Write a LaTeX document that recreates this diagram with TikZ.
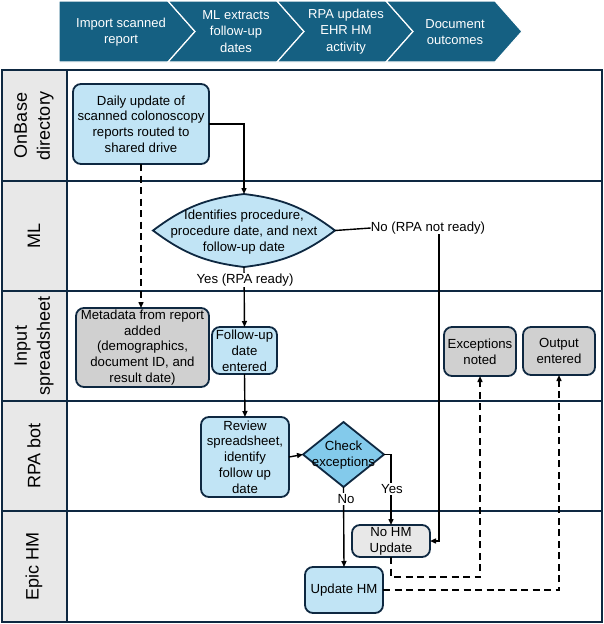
\documentclass[tikz,border=0pt]{standalone}
\usepackage{fontspec}
\setmainfont{Liberation Sans}
\usetikzlibrary{arrows.meta,shapes.geometric}
\definecolor{flowink}{HTML}{0E2841}
\definecolor{flowteal}{HTML}{156082}
\definecolor{flowblue}{HTML}{C1E4F5}
\definecolor{flowcheck}{HTML}{83CAEB}
\definecolor{flowgray}{HTML}{D0D0D0}
\definecolor{flowpale}{HTML}{E8E8E8}

\tikzset{
  lane/.style={draw=flowink,line width=2.7pt},
  lanetext/.style={rotate=90,align=center,font=\fontsize{18}{23}\selectfont},
  stagetext/.style={text=white,align=center,font=\fontsize{13}{16.5}\selectfont},
  procbox/.style={draw=flowink,line width=1.8pt,rounded corners=8pt,fill=flowblue,
    align=center,inner sep=0pt,outer sep=0pt},
  greybox/.style={procbox,fill=flowgray},
  palebox/.style={procbox,fill=flowpale},
  decision/.style={diamond,inner sep=0pt,outer sep=0pt},
  decisionline/.style={draw=flowink,line width=1.8pt},
  flowtext/.style={align=center,inner sep=0pt},
  lbl/.style={fill=white,inner sep=1pt},
  flow/.style={draw=black,line width=1.4pt,->},
  dashflow/.style={flow,dash pattern=on 7pt off 4.5pt}
}

\begin{document}
\begin{tikzpicture}[x=1pt,y=-1pt,font=\fontsize{13.2}{15.8}\selectfont,
    >={Triangle[length=6pt,width=5pt]}]
  \useasboundingbox (0,0) rectangle (604,624);

  % stage chevrons
  \filldraw[fill=flowteal,draw=white,line width=1.2pt]
    (59,1) -- (168,1) -- (195,31.5) -- (168,62) -- (59,62) -- cycle;
  \foreach \cx in {168,277,386}
    \filldraw[fill=flowteal,draw=white,line width=1.2pt]
      (\cx,1) -- ++(109,0) -- ++(27,30.5) -- ++(-27,30.5) -- ++(-109,0) -- ++(27,-30.5) -- cycle;
  \node[stagetext] (import) at (121,32) {Import scanned\\report};
  \node[stagetext] (extract) at (236,31.5) {ML extracts\\follow-up\\dates};
  \node[stagetext] (rpaupd) at (346,31.5) {RPA updates\\EHR HM\\activity};
  \node[stagetext] (outcome) at (455,32) {Document\\outcomes};

  % swimlanes
  \fill[flowpale] (2,70) rectangle (67,622);
  \foreach \ly in {181,291,401,511}
    \draw[lane] (2,\ly) -- (602,\ly);
  \draw[lane] (67,70) -- (67,622);
  \draw[lane] (2,70) rectangle (602,622);
  \node[lanetext] (onbase) at (34,125.5) {OnBase\\directory};
  \node[lanetext] (mllane) at (34,236) {ML};
  \node[lanetext] (inputlane) at (34,346) {Input\\spreadsheet};
  \node[lanetext] (rpalane) at (34,456) {RPA bot};
  \node[lanetext] (epiclane) at (34,566.5) {Epic HM};

  % steps
  \node[procbox,minimum width=136pt,minimum height=80pt] (daily) at (141,124)
    {Daily update of\\scanned colonoscopy\\reports routed to\\shared drive};
  \node[decision,minimum width=182pt,minimum height=73pt] (identify) at (244,230.5) {};
  \filldraw[decisionline,fill=flowblue] (identify.west) to[bend left=15] (identify.north)
    to[bend left=15] (identify.east) to[bend left=15] (identify.south)
    to[bend left=15] cycle;
  \node[flowtext] (identifytext) at (244,232)
    {Identifies procedure,\\procedure date, and next\\follow-up date};
  \node[greybox,minimum width=133pt,minimum height=79pt] (meta) at (142.5,347.5)
    {Metadata from report\\added\\(demographics,\\document ID, and\\result date)};
  \node[procbox,minimum width=65pt,minimum height=47pt] (follow) at (244.5,350.5)
    {Follow-up\\date\\entered};
  \node[greybox,minimum width=72pt,minimum height=49pt] (except) at (480,351.5)
    {Exceptions\\noted};
  \node[greybox,minimum width=72pt,minimum height=48pt] (output) at (559,351)
    {Output\\entered};
  \node[procbox,minimum width=88pt,minimum height=80pt] (review) at (245,457)
    {Review\\spreadsheet,\\identify\\follow up\\date};
  \node[decision,draw=flowink,line width=1.8pt,fill=flowcheck,
    minimum width=81pt,minimum height=65pt] (check) at (343.5,454.5) {};
  \node[flowtext] (checktext) at (343.5,455) {Check\\exceptions};
  \node[palebox,minimum width=78pt,minimum height=32pt] (nohm) at (391,541)
    {No HM\\Update};
  \node[procbox,minimum width=78pt,minimum height=46pt] (update) at (344,590)
    {Update HM};

  % connectors
  \draw[flow] (daily.east) -| (identify.north);
  \draw[dashflow] (daily.south) -- (daily.south |- meta.north);
  \node[flowtext] (notready) at (428,228) {No (RPA not ready)};
  \draw[line width=1.4pt] (identify.east) -- (notready.west);
  \draw[flow] ([xshift=11pt]notready.south) |- (nohm.east);
  \draw[flow] (identify.south) -- (follow.north);
  \node[lbl] (yesready) at (245,280) {Yes (RPA ready)};
  \draw[flow] (follow.south) -- (review.north);
  \draw[flow] (review.east) -- (check.west);
  \draw[flow] (check.east) -| (nohm.north);
  \node[lbl] (yes) at (392,489) {Yes};
  \draw[flow] (check.south) -- (update.north);
  \node[lbl] (no) at (346,499) {No};
  \draw[dashflow] (nohm.south) -- ++(0,20) -| (except.south);
  \draw[dashflow] (update.east) -| (output.south);
\end{tikzpicture}
\end{document}
